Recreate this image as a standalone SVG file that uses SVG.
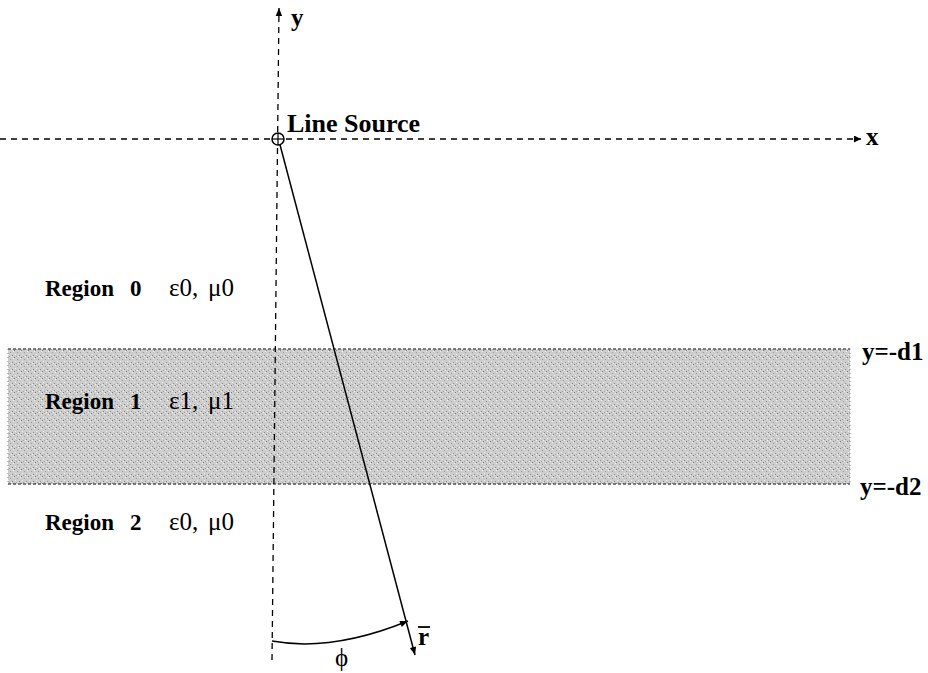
<svg xmlns="http://www.w3.org/2000/svg" width="928" height="673" viewBox="0 0 928 673">
<style>
.ax{stroke:#000;stroke-width:1.3;stroke-dasharray:6,5;fill:none}
.ln{stroke:#000;stroke-width:1.5;fill:none}
.b{font-family:"Liberation Serif",serif;font-weight:bold;font-size:23px;fill:#000}
.r{font-family:"Liberation Serif",serif;font-size:25px;fill:#000}
.edge{stroke:#555;stroke-width:1.5;stroke-dasharray:3,2;fill:none}
</style>
<defs>
<pattern id="stip" width="7" height="7" patternUnits="userSpaceOnUse">
<rect width="7" height="7" fill="#cdcdcd"/>
<rect x="0" y="0" width="1" height="1" fill="#7a7a7a"/>
<rect x="3" y="2" width="1" height="1" fill="#999"/>
<rect x="1" y="4" width="1" height="1" fill="#eee"/>
<rect x="5" y="5" width="1" height="1" fill="#8a8a8a"/>
<rect x="6" y="1" width="1" height="1" fill="#f2f2f2"/>
<rect x="4" y="6" width="1" height="1" fill="#f0f0f0"/>
<rect x="2" y="6" width="1" height="1" fill="#a5a5a5"/>
</pattern>
<marker id="ah" viewBox="0 0 10 10" refX="10" refY="5" markerWidth="11" markerHeight="8" markerUnits="userSpaceOnUse" orient="auto">
<path d="M0,1 L10,5 L0,9 Z" fill="#000"/>
</marker>
<marker id="ahs" viewBox="0 0 10 10" refX="10" refY="5" markerWidth="14" markerHeight="7" markerUnits="userSpaceOnUse" orient="auto">
<path d="M0,0 L10,5 L0,10 Z" fill="#000"/>
</marker>
</defs>
<g id="band">
<rect x="8" y="349" width="842" height="135" fill="url(#stip)"/>
<line class="edge" x1="8" y1="349" x2="850" y2="349"/>
<line class="edge" x1="8" y1="484" x2="850" y2="484"/>
<line x1="850" y1="349" x2="850" y2="484" stroke="#888" stroke-width="1" stroke-dasharray="1,3"/>
<line x1="8" y1="349" x2="8" y2="484" stroke="#888" stroke-width="1" stroke-dasharray="1,3"/>
</g>
<g id="connectors">
<line class="ax" x1="272" y1="660" x2="279" y2="8" marker-end="url(#ah)"/>
<line class="ax" x1="0" y1="139" x2="861" y2="139" marker-end="url(#ahs)"/>
<line class="ln" x1="279" y1="141" x2="415" y2="655" marker-end="url(#ah)"/>
<path class="ln" d="M272,641 Q332,652 408,621" marker-end="url(#ah)"/>
</g>
<g id="source">
<circle cx="278" cy="139" r="6" fill="#fff" stroke="#000" stroke-width="1.5"/>
<line x1="278" y1="133" x2="278" y2="145" stroke="#000" stroke-width="1.2"/>
<line x1="272" y1="139" x2="284" y2="139" stroke="#000" stroke-width="1.2"/>
<text class="b" x="287" y="132" style="font-size:26px">Line Source</text>
</g>
<g id="axis-labels">
<text class="b" x="291" y="26" style="font-size:25px">y</text>
<text class="b" x="866" y="145" style="font-size:25px">x</text>
<text class="b" x="862" y="360" style="font-size:25px">y=-d1</text>
<text class="b" x="860" y="495" style="font-size:25px">y=-d2</text>
</g>
<g id="region0">
<text class="b" x="45" y="296">Region<tspan x="130">0</tspan></text>
<text class="r" x="169" y="296">ε0, <tspan x="208">μ0</tspan></text>
</g>
<g id="region1">
<text class="b" x="45" y="409">Region<tspan x="130">1</tspan></text>
<text class="r" x="169" y="409">ε1, <tspan x="208">μ1</tspan></text>
</g>
<g id="region2">
<text class="b" x="45" y="530">Region<tspan x="130">2</tspan></text>
<text class="r" x="169" y="530">ε0, <tspan x="208">μ0</tspan></text>
</g>
<g id="labels">
<text class="b" x="418" y="645" style="font-size:25px">r</text>
<line x1="418" y1="627" x2="430" y2="627" stroke="#000" stroke-width="1.8"/>
<text class="r" x="335" y="666">ϕ</text>
</g>
</svg>
